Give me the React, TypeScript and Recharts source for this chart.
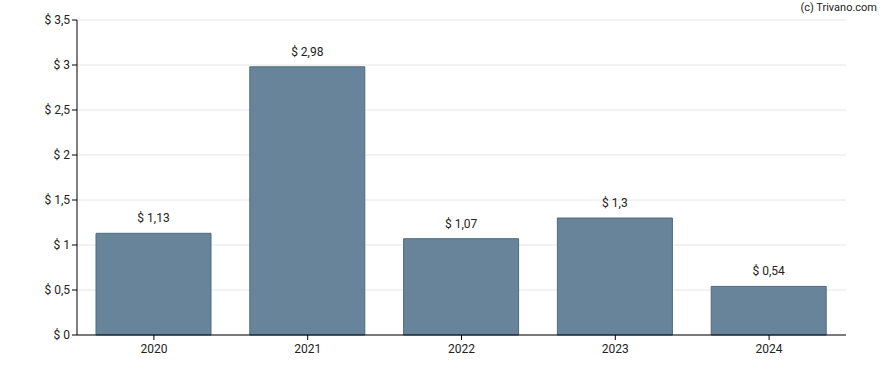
import React from 'react';
import { BarChart, Bar, XAxis, YAxis, CartesianGrid, LabelList } from 'recharts';

const years = ['2020', '2021', '2022', '2023', '2024'];
const values = [1.13, 2.98, 1.07, 1.3, 0.54];
const yTicks = [0, 0.5, 1, 1.5, 2, 2.5, 3, 3.5];

const data = years.map((y, i) => ({ year: y, value: values[i] }));

const fmt = (v: number) => '$ ' + String(v).replace('.', ',');

export default function App() {
  return (
    <div style={{ position: 'absolute', left: 0, top: 0, width: 888, height: 370, background: '#fff', fontFamily: 'Roboto, sans-serif' }}>
      <BarChart width={888} height={370} data={data} margin={{ top: 20, right: 42, bottom: 5, left: 0 }}>
        <CartesianGrid vertical={false} stroke="#e6e6e6" />
        <XAxis
          dataKey="year"
          height={30}
          stroke="#000"
          tickLine={{ stroke: '#000' }}
          tick={{ fill: '#222', fontSize: 12 }}
          tickSize={5}
          tickMargin={4}
        />
        <YAxis
          width={77}
          domain={[0, 3.5]}
          ticks={yTicks}
          stroke="#000"
          tick={{ fill: '#222', fontSize: 12 }}
          tickFormatter={fmt}
          tickSize={5}
          interval={0}
        />
        <Bar dataKey="value" fill="#67849a" stroke="#4e6b80" barSize={115} isAnimationActive={false}>
          <LabelList dataKey="value" position="top" offset={11} formatter={(v: any) => fmt(v)} style={{ fill: '#222', fontSize: 12 }} />
        </Bar>
      </BarChart>
      <div style={{ position: 'absolute', right: 11, top: 1, fontSize: 11, color: '#222' }}>(c) Trivano.com</div>
    </div>
  );
}
